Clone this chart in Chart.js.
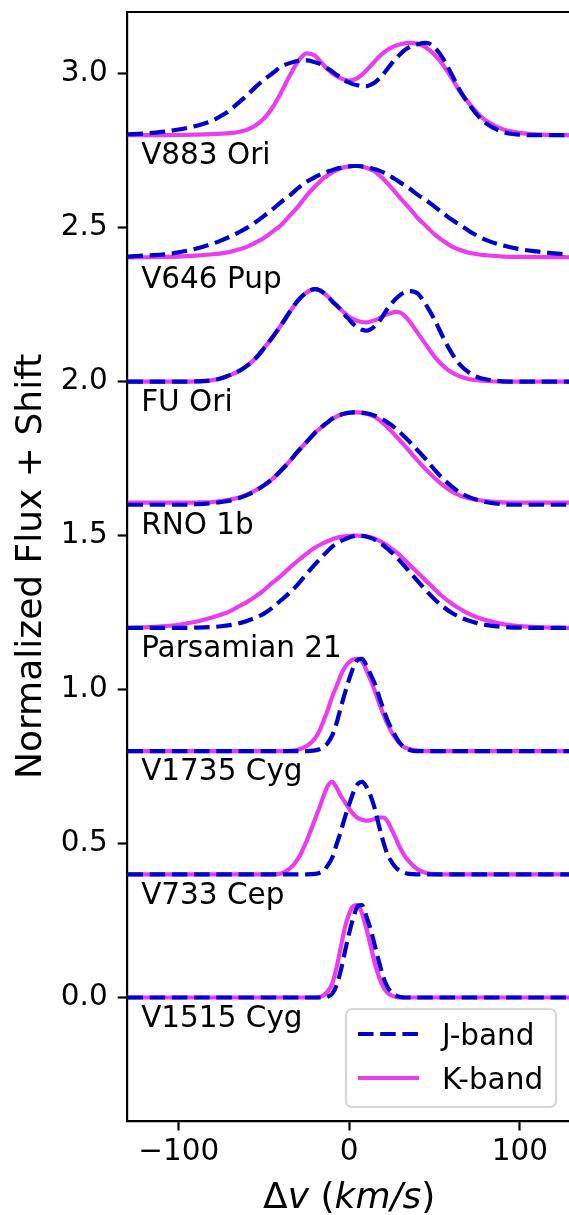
<!DOCTYPE html>
<html>
<head>
<meta charset="utf-8">
<script src="https://cdn.jsdelivr.net/npm/chart.js@4.4.1/dist/chart.umd.min.js"></script>
<style>
  html, body { margin: 0; padding: 0; background: #fff; overflow: hidden; }
  #wrap { width: 569px; height: 1215px; overflow: hidden; }
  canvas { display: block; }
</style>
</head>
<body>
<div id="wrap"><canvas id="profiles" width="574" height="1215"></canvas></div>
<script>
// Velocity grid (km/s), shared by every profile
const velocity = [-130, -120, -110, -100, -90,
  -80, -75, -70, -65, -60, -55, -50, -45, -40, -35, -30, -25, -20,
  -17.5, -15, -12.5, -10, -7.5, -5, -2.5, 0, 2.5, 5, 7.5, 10, 12.5, 15, 17.5, 20, 22.5, 25, 27.5, 30, 32.5, 35,
  40, 45, 50, 55, 60, 65, 70, 75, 80,
  90, 100, 110, 120, 130];

const stars = ['V883 Ori', 'V646 Pup', 'FU Ori', 'RNO 1b', 'Parsamian 21', 'V1735 Cyg', 'V733 Cep', 'V1515 Cyg'];
const shifts = [2.8, 2.4, 2.0, 1.6, 1.2, 0.8, 0.4, 0.0];
const peakHeight = 0.3;   // normalized profiles are scaled to this height

// Normalized line profiles, J-band
const jV883 = [0.01, 0.018, 0.035, 0.062, 0.10,
  0.16, 0.21, 0.27, 0.35, 0.43, 0.52, 0.60, 0.67, 0.74, 0.78, 0.805, 0.81, 0.79,
  0.775, 0.75, 0.72, 0.69, 0.655, 0.62, 0.59, 0.57, 0.55, 0.54, 0.53, 0.53, 0.545, 0.57, 0.61, 0.66, 0.72, 0.78, 0.83, 0.88, 0.92, 0.95,
  0.985, 1.0, 0.95, 0.83, 0.66, 0.48, 0.34, 0.22, 0.13,
  0.035, 0.005, 0, 0, 0];
const jV646 = [0.02, 0.03, 0.04, 0.065, 0.105,
  0.16, 0.195, 0.235, 0.28, 0.33, 0.39, 0.46, 0.53, 0.61, 0.68, 0.76, 0.83, 0.88,
  0.905, 0.925, 0.94, 0.955, 0.97, 0.98, 0.99, 0.995, 1.0, 1.0, 0.995, 0.99, 0.978, 0.965, 0.95, 0.93, 0.905, 0.88, 0.85, 0.82, 0.79, 0.76,
  0.69, 0.63, 0.56, 0.49, 0.42, 0.36, 0.30, 0.245, 0.20,
  0.14, 0.10, 0.075, 0.055, 0.04];
const jFUOri = [0, 0, 0, 0, 0.002,
  0.015, 0.035, 0.07, 0.11, 0.17, 0.25, 0.36, 0.48, 0.61, 0.75, 0.88, 0.965, 1.0,
  0.99, 0.96, 0.92, 0.87, 0.825, 0.78, 0.72, 0.67, 0.62, 0.585, 0.56, 0.55, 0.565, 0.60, 0.65, 0.72, 0.79, 0.85, 0.90, 0.94, 0.965, 0.98,
  0.955, 0.83, 0.67, 0.48, 0.31, 0.18, 0.10, 0.05, 0.025,
  0.003, 0, 0, 0, 0];
const jRNO1b = [0, 0, 0, 0, 0.006,
  0.018, 0.03, 0.045, 0.07, 0.105, 0.15, 0.21, 0.28, 0.37, 0.47, 0.58, 0.68, 0.78,
  0.82, 0.86, 0.895, 0.93, 0.955, 0.975, 0.988, 0.995, 1.0, 1.0, 0.997, 0.99, 0.98, 0.965, 0.945, 0.92, 0.89, 0.86, 0.82, 0.78, 0.735, 0.69,
  0.59, 0.49, 0.38, 0.28, 0.20, 0.13, 0.085, 0.053, 0.03,
  0.005, 0, 0, 0, 0];
const jPars21 = [0, 0, 0, 0, 0.003,
  0.01, 0.018, 0.03, 0.048, 0.075, 0.11, 0.155, 0.22, 0.30, 0.38, 0.475, 0.585, 0.69,
  0.74, 0.79, 0.835, 0.88, 0.91, 0.94, 0.962, 0.98, 0.993, 1.0, 0.997, 0.99, 0.975, 0.955, 0.93, 0.895, 0.855, 0.815, 0.77, 0.72, 0.67, 0.615,
  0.51, 0.405, 0.31, 0.23, 0.165, 0.115, 0.08, 0.052, 0.033,
  0.012, 0.003, 0, 0, 0];
const jV1735 = [0, 0, 0, 0, 0,
  0, 0, 0, 0, 0, 0, 0, 0, 0, 0, 0, 0, 0.008,
  0.02, 0.045, 0.09, 0.17, 0.30, 0.47, 0.63, 0.78, 0.91, 0.99, 1.0, 0.93, 0.83, 0.73, 0.59, 0.455, 0.33, 0.235, 0.15, 0.08, 0.04, 0.015,
  0, 0, 0, 0, 0, 0, 0, 0, 0,
  0, 0, 0, 0, 0];
const jV733 = [0, 0, 0, 0, 0,
  0, 0, 0, 0, 0, 0, 0, 0, 0, 0, 0, 0, 0.005,
  0.015, 0.04, 0.10, 0.18, 0.32, 0.46, 0.62, 0.76, 0.89, 0.98, 1.0, 0.95, 0.85, 0.71, 0.52, 0.35, 0.21, 0.13, 0.07, 0.035, 0.015, 0.005,
  0, 0, 0, 0, 0, 0, 0, 0, 0,
  0, 0, 0, 0, 0];
const jV1515 = [0, 0, 0, 0, 0,
  0, 0, 0, 0, 0, 0, 0, 0, 0, 0, 0, 0, 0,
  0, 0, 0.01, 0.04, 0.13, 0.29, 0.50, 0.70, 0.87, 0.99, 1.0, 0.88, 0.74, 0.56, 0.38, 0.22, 0.11, 0.05, 0.02, 0.005, 0, 0,
  0, 0, 0, 0, 0, 0, 0, 0, 0,
  0, 0, 0, 0, 0];

// Normalized line profiles, K-band
const kV883 = [0, 0, 0, 0.002, 0.006,
  0.012, 0.016, 0.022, 0.035, 0.058, 0.105, 0.18, 0.30, 0.46, 0.64, 0.80, 0.885, 0.86,
  0.81, 0.76, 0.71, 0.67, 0.64, 0.615, 0.60, 0.59, 0.60, 0.62, 0.655, 0.70, 0.75, 0.80, 0.85, 0.89, 0.925, 0.95, 0.97, 0.985, 0.995, 1.0,
  0.99, 0.95, 0.87, 0.76, 0.62, 0.47, 0.35, 0.24, 0.16,
  0.065, 0.025, 0.008, 0.002, 0];
const kV646 = [0.01, 0.012, 0.015, 0.02, 0.03,
  0.045, 0.055, 0.07, 0.095, 0.125, 0.17, 0.22, 0.29, 0.36, 0.46, 0.56, 0.68, 0.78,
  0.825, 0.87, 0.90, 0.93, 0.955, 0.975, 0.988, 0.995, 1.0, 1.0, 0.993, 0.98, 0.962, 0.94, 0.90, 0.86, 0.81, 0.76, 0.705, 0.65, 0.60, 0.55,
  0.44, 0.35, 0.26, 0.19, 0.13, 0.09, 0.06, 0.045, 0.035,
  0.02, 0.016, 0.014, 0.013, 0.012];
const kFUOri = [0, 0, 0, 0, 0.002,
  0.015, 0.035, 0.07, 0.11, 0.17, 0.25, 0.36, 0.48, 0.61, 0.75, 0.88, 0.965, 1.0,
  0.99, 0.96, 0.92, 0.87, 0.825, 0.78, 0.74, 0.70, 0.675, 0.655, 0.645, 0.64, 0.65, 0.665, 0.685, 0.71, 0.73, 0.745, 0.755, 0.745, 0.71, 0.66,
  0.53, 0.40, 0.27, 0.17, 0.10, 0.055, 0.028, 0.014, 0.006,
  0, 0, 0, 0, 0];
const kRNO1b = [0.022, 0.022, 0.022, 0.022, 0.024,
  0.03, 0.04, 0.055, 0.075, 0.11, 0.155, 0.21, 0.28, 0.37, 0.47, 0.58, 0.68, 0.78,
  0.82, 0.86, 0.895, 0.93, 0.955, 0.975, 0.988, 0.995, 1.0, 1.0, 0.995, 0.985, 0.97, 0.95, 0.92, 0.88, 0.835, 0.79, 0.74, 0.69, 0.64, 0.585,
  0.48, 0.38, 0.29, 0.21, 0.145, 0.10, 0.07, 0.052, 0.04,
  0.026, 0.022, 0.022, 0.022, 0.022];
const kPars21 = [0, 0.006, 0.017, 0.035, 0.067,
  0.115, 0.145, 0.18, 0.23, 0.28, 0.34, 0.41, 0.49, 0.565, 0.65, 0.73, 0.805, 0.87,
  0.895, 0.92, 0.94, 0.96, 0.975, 0.985, 0.992, 0.997, 1.0, 1.0, 0.996, 0.99, 0.98, 0.965, 0.945, 0.92, 0.89, 0.855, 0.82, 0.78, 0.735, 0.69,
  0.60, 0.51, 0.42, 0.335, 0.265, 0.205, 0.155, 0.115, 0.085,
  0.042, 0.02, 0.008, 0.003, 0];
const kV1735 = [0, 0, 0, 0, 0,
  0, 0, 0, 0, 0, 0, 0, 0, 0, 0.003, 0.015, 0.055, 0.14,
  0.22, 0.33, 0.45, 0.59, 0.70, 0.82, 0.91, 0.965, 0.995, 1.0, 0.97, 0.88, 0.77, 0.65, 0.52, 0.40, 0.29, 0.20, 0.13, 0.075, 0.04, 0.025,
  0.005, 0, 0, 0, 0, 0, 0, 0, 0,
  0, 0, 0, 0, 0];
const kV733 = [0, 0, 0, 0, 0,
  0, 0, 0, 0, 0, 0, 0, 0, 0.01, 0.06, 0.17, 0.36, 0.60,
  0.72, 0.85, 0.96, 1.0, 0.94, 0.85, 0.78, 0.71, 0.65, 0.61, 0.59, 0.58, 0.585, 0.60, 0.615, 0.615, 0.57, 0.48, 0.38, 0.28, 0.20, 0.14,
  0.055, 0.015, 0.003, 0, 0, 0, 0, 0, 0,
  0, 0, 0, 0, 0];
const kV1515 = [0, 0, 0, 0, 0,
  0, 0, 0, 0, 0, 0, 0, 0, 0, 0, 0, 0, 0,
  0.005, 0.025, 0.07, 0.15, 0.32, 0.54, 0.76, 0.91, 0.99, 1.0, 0.91, 0.75, 0.56, 0.37, 0.22, 0.11, 0.05, 0.02, 0.005, 0, 0, 0,
  0, 0, 0, 0, 0, 0, 0, 0, 0,
  0, 0, 0, 0, 0];

const jBand = [jV883, jV646, jFUOri, jRNO1b, jPars21, jV1735, jV733, jV1515];
const kBand = [kV883, kV646, kFUOri, kRNO1b, kPars21, kV1735, kV733, kV1515];

const xTicks = [-100, 0, 100];
const yTicks = [0, 0.5, 1.0, 1.5, 2.0, 2.5, 3.0];

const J_COLOR = '#0000cd';
const K_COLOR = '#ec3cf0';
const FONT = "'DejaVu Sans', 'Liberation Sans', sans-serif";
const TEXT_PX = 29.5;
const TITLE_PX = 36;
const LINE_W = 4.2;
const DASH = [15.5, 6.7];

function profilePoints(values, shift) {
  return velocity.map((v, i) => ({ x: v, y: shift + peakHeight * values[i] }));
}

const datasets = [];
stars.forEach((name, i) => {
  datasets.push({
    label: 'J-band', data: profilePoints(jBand[i], shifts[i]),
    borderColor: J_COLOR, borderWidth: LINE_W, borderDash: DASH,
    borderJoinStyle: 'round', pointRadius: 0, fill: false,
    cubicInterpolationMode: 'monotone', order: 0
  });
});
stars.forEach((name, i) => {
  datasets.push({
    label: 'K-band', data: profilePoints(kBand[i], shifts[i]),
    borderColor: K_COLOR, borderWidth: LINE_W, borderJoinStyle: 'round',
    pointRadius: 0, fill: false, cubicInterpolationMode: 'monotone', order: 1
  });
});

function tickText(v) {
  return v < 0 ? '\u2212' + Math.abs(v) : String(v);
}

// Spines, star names, axis titles and legend box
const decorations = {
  id: 'decorations',
  afterDatasetsDraw(chart) {
    const { ctx, scales: { x, y } } = chart;
    ctx.save();
    ctx.fillStyle = '#000';
    ctx.font = TEXT_PX + 'px ' + FONT;
    ctx.textAlign = 'left';
    ctx.textBaseline = 'alphabetic';
    stars.forEach((name, i) => {
      ctx.fillText(name, x.getPixelForValue(-122), y.getPixelForValue(shifts[i] - 0.095));
    });
    ctx.restore();
  },
  afterDraw(chart) {
    const { ctx, chartArea: a } = chart;
    ctx.save();
    // top and right spines
    ctx.strokeStyle = '#000';
    ctx.lineWidth = 2.2;
    ctx.beginPath();
    ctx.moveTo(a.left - 1.1, a.top);
    ctx.lineTo(a.right, a.top);
    ctx.lineTo(a.right, a.bottom);
    ctx.stroke();

    // y title
    ctx.fillStyle = '#000';
    ctx.font = TITLE_PX + 'px ' + FONT;
    ctx.textBaseline = 'alphabetic';
    ctx.save();
    ctx.translate(41, (a.top + a.bottom) / 2);
    ctx.rotate(-Math.PI / 2);
    ctx.textAlign = 'center';
    ctx.fillText('Normalized Flux + Shift', 0, 0);
    ctx.restore();

    // x title with math-style italics
    const parts = [
      ['\u0394', false], ['v', true], [' ', false], ['(', false], ['km/s', true], [')', false]
    ];
    let total = 0;
    parts.forEach(p => {
      ctx.font = (p[1] ? 'italic ' : '') + TITLE_PX + 'px ' + FONT;
      p.push(ctx.measureText(p[0]).width);
      total += p[2];
    });
    let cx = chart.scales.x.getPixelForValue(0) - total / 2;
    ctx.textAlign = 'left';
    parts.forEach(p => {
      ctx.font = (p[1] ? 'italic ' : '') + TITLE_PX + 'px ' + FONT;
      ctx.fillText(p[0], cx, 1208);
      cx += p[2];
    });

    // legend
    const bx = 346, by = 1009, bw = 210, bh = 98, r = 6;
    ctx.beginPath();
    ctx.roundRect(bx, by, bw, bh, r);
    ctx.fillStyle = 'rgba(255,255,255,0.8)';
    ctx.fill();
    ctx.strokeStyle = 'rgba(204,204,204,0.8)';
    ctx.lineWidth = 2.2;
    ctx.stroke();

    const entries = [
      { label: datasets[0].label, color: J_COLOR, dash: DASH, y: 1034 },
      { label: datasets[8].label, color: K_COLOR, dash: [], y: 1078 }
    ];
    entries.forEach(e => {
      ctx.beginPath();
      ctx.setLineDash(e.dash);
      ctx.strokeStyle = e.color;
      ctx.lineWidth = LINE_W;
      ctx.lineCap = 'butt';
      ctx.moveTo(358, e.y);
      ctx.lineTo(419, e.y);
      ctx.stroke();
      ctx.setLineDash([]);
      ctx.fillStyle = '#000';
      ctx.font = TEXT_PX + 'px ' + FONT;
      ctx.textBaseline = 'alphabetic';
      ctx.fillText(e.label, 442, e.y + 11);
    });
    ctx.restore();
  }
};

new Chart(document.getElementById('profiles'), {
  type: 'line',
  data: { datasets },
  options: {
    responsive: false,
    animation: false,
    devicePixelRatio: 1,
    layout: { padding: { top: 12, right: 3, left: 0, bottom: 0 } },
    plugins: { legend: { display: false }, tooltip: { enabled: false } },
    elements: { line: { tension: 0 } },
    scales: {
      x: {
        type: 'linear', min: -130, max: 130,
        afterBuildTicks: s => { s.ticks = xTicks.map(v => ({ value: v })); },
        afterFit: s => { s.height = 94.3; s.paddingLeft = 0; s.paddingRight = 0; },
        ticks: { color: '#000', font: { family: FONT, size: TEXT_PX }, padding: 4,
          maxRotation: 0, autoSkip: false, callback: v => tickText(v) },
        grid: { display: true, drawOnChartArea: false, drawTicks: true,
          tickLength: 9.8, tickWidth: 2.2, tickColor: '#000' },
        border: { display: true, color: '#000', width: 2.2 }
      },
      y: {
        type: 'linear', min: -0.4, max: 3.2,
        afterBuildTicks: s => { s.ticks = yTicks.map(v => ({ value: v })); },
        afterFit: s => { s.width = 127.5; s.paddingTop = 0; s.paddingBottom = 0; },
        ticks: { color: '#000', font: { family: FONT, size: TEXT_PX }, padding: 10,
          autoSkip: false, callback: v => v.toFixed(1) },
        grid: { display: true, drawOnChartArea: false, drawTicks: true,
          tickLength: 9.8, tickWidth: 2.2, tickColor: '#000' },
        border: { display: true, color: '#000', width: 2.2 }
      }
    }
  },
  plugins: [decorations]
});
</script>
</body>
</html>
